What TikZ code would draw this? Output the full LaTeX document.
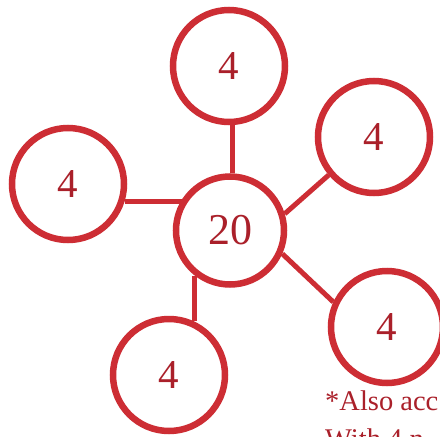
\documentclass[tikz,border=0pt]{standalone}
\usepackage{fontspec}
\setmainfont{Liberation Serif}
\definecolor{ring}{RGB}{205,45,52}
\definecolor{ink}{RGB}{170,32,42}
\begin{document}
\begin{tikzpicture}[x=1pt,y=-1pt,
  sat/.style={circle,draw=ring,line width=6.5pt,minimum size=112pt,inner sep=0pt,
    text=ink,font=\fontsize{41}{41}\selectfont},
  hub/.style={circle,draw=ring,line width=6.5pt,minimum size=108pt,inner sep=0pt,
    text=ink,font=\fontsize{44}{44}\selectfont},
  link/.style={draw=ring,line width=5pt},
  note/.style={text=ink,font=\fontsize{28.5}{28.5}\selectfont,inner sep=0pt,anchor=base west}]
\clip (0,0) rectangle (440,437);
\useasboundingbox (0,0) rectangle (440,437);
\fill[white] (0,0) rectangle (440,437);
\node[hub] (c) at (230,230.5) {20};
\node[sat] (t) at (229,66) {4};
\node[sat] (rt) at (374,137) {4};
\node[sat] (l) at (68,184) {4};
\node[sat] (rb) at (387,327) {4};
\node[sat] (b) at (169,375) {4};
\draw[link] (c.87) -- (c.87 |- t.south);
\draw[link] (l.-17) -- (l.-17 -| c.146);
\draw[link] (c.17) -- (rt.220);
\draw[link] (c.-24) -- (rb.155);
\draw[link] (c.-128) -- (c.-128 |- b.65);
\node[note] (n1) at (325,410) {*Also acc};
\node[note] (n2) at (325,448) {With 4 n};
\end{tikzpicture}
\end{document}
